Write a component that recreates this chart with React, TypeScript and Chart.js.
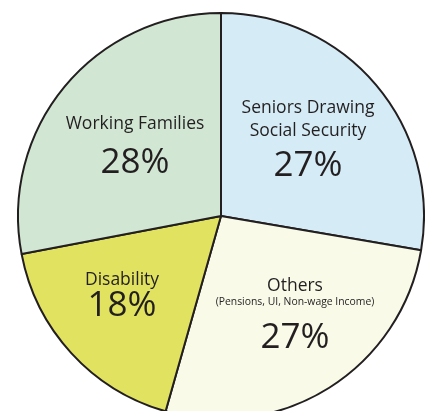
import React, { useEffect, useRef } from "react";
import { Chart, registerables } from "chart.js";

Chart.register(...registerables);

const categories = ["Seniors Drawing Social Security", "Others", "Disability", "Working Families"];
const sliceShares = [27.7, 26.7, 17.6, 28.0];
const percentLabels = ["27%", "27%", "18%", "28%"];
const sliceColors = ["#d5ecf7", "#f9fae8", "#e1e360", "#d1e7d3"];

const INK = "#231f20";
const FONT = "'Open Sans', 'DejaVu Sans', sans-serif";

type TextItem = { lines: string[]; sizes: number[]; dx: number; dys: number[] };

// label layout, offsets relative to pie centre
const labelLayout: TextItem[] = [
  { lines: ["Seniors Drawing", "Social Security", percentLabels[0]], sizes: [17.5, 17.5, 35], dx: 87, dys: [-103, -80, -40] },
  { lines: ["Others", "(Pensions, UI, Non-wage Income)", percentLabels[1]], sizes: [17.5, 10.4, 35], dx: 74, dys: [75, 89, 132] },
  { lines: ["Disability", percentLabels[2]], sizes: [17.5, 35], dx: -99, dys: [69, 100] },
  { lines: ["Working Families", percentLabels[3]], sizes: [17.5, 35], dx: -86, dys: [-87, -43] },
];

const labelPlugin = {
  id: "sliceLabels",
  afterDatasetsDraw(chart: any) {
    const meta = chart.getDatasetMeta(0);
    if (!meta.data.length) return;
    const { x: cx, y: cy } = meta.data[0];
    const ctx = chart.ctx;
    ctx.save();
    ctx.fillStyle = INK;
    ctx.textAlign = "center";
    ctx.textBaseline = "alphabetic";
    labelLayout.forEach((item) => {
      item.lines.forEach((line, i) => {
        ctx.font = `${item.sizes[i]}px ${FONT}`;
        ctx.fillText(line, cx + item.dx, cy + item.dys[i]);
      });
    });
    ctx.restore();
  },
};

export default function App() {
  const canvasRef = useRef<HTMLCanvasElement | null>(null);

  useEffect(() => {
    if (!canvasRef.current) return;
    const chart = new Chart(canvasRef.current, {
      type: "pie",
      data: {
        labels: categories,
        datasets: [
          {
            data: sliceShares,
            backgroundColor: sliceColors,
            borderColor: INK,
            borderWidth: 2,
            radius: 203,
            clip: false,
          } as any,
        ],
      },
      options: {
        responsive: false,
        animation: false,
        layout: { padding: { left: 17, top: 21, right: 0, bottom: 0 } },
        plugins: {
          legend: { display: false },
          tooltip: { enabled: false },
        },
      },
      plugins: [labelPlugin],
    });
    return () => chart.destroy();
  }, []);

  return (
    <div style={{ position: "fixed", left: 0, top: 0, width: 425, height: 411, overflow: "hidden", background: "#ffffff" }}>
      <canvas ref={canvasRef} width={425} height={411} style={{ display: "block", width: 425, height: 411 }} />
    </div>
  );
}
